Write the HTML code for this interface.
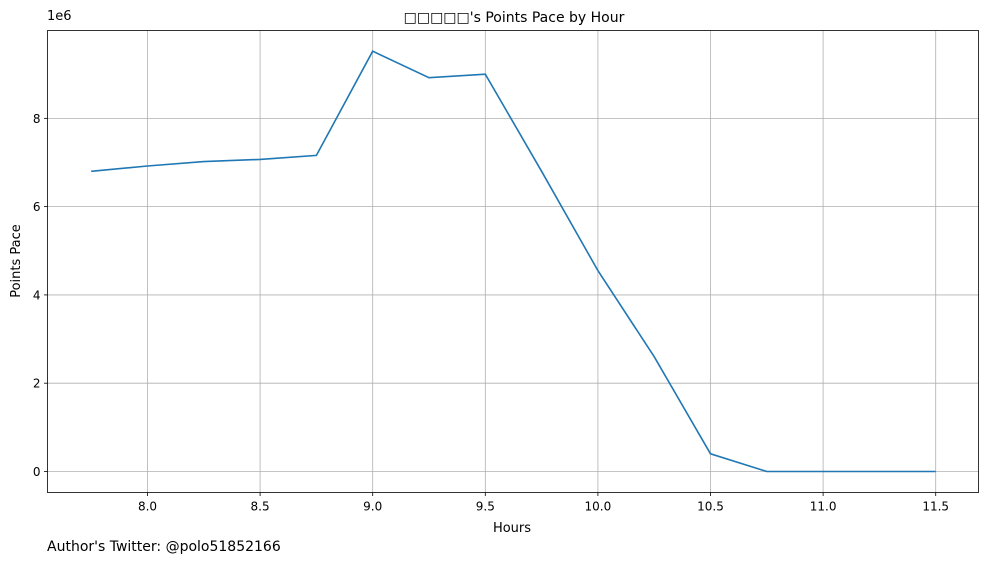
<!DOCTYPE html>
<html><head><meta charset="utf-8">
<style>
body{margin:0;background:#fff;}
svg{display:block;font-family:"DejaVu Sans","Liberation Sans",sans-serif;}
</style></head>
<body>
<svg id="chart" width="988" height="562">
<text x="514" y="22" font-size="14" text-anchor="middle">□□□□□'s Points Pace by Hour</text>
<g id="grid"></g>
<g id="ticks"></g>
<rect x="47.5" y="30.5" width="931" height="462" fill="none" stroke="#000" stroke-width="0.8"/>
<path id="line" fill="none" stroke="#1f77b4" stroke-width="1.6"/>
<text x="47" y="20" font-size="13">1e6</text>
<text x="512" y="532" font-size="13" text-anchor="middle">Hours</text>
<text x="20" y="261" font-size="13" text-anchor="middle" transform="rotate(-90 20 261)">Points Pace</text>
<text x="47" y="551" font-size="14">Author's Twitter: @polo51852166</text>
</svg>
<script>
const hours = [7.75,8.0,8.25,8.5,8.75,9.0,9.25,9.5,9.75,10.0,10.25,10.5,10.75,11.0,11.25,11.5];
const pace = [6.8,6.92,7.02,7.07,7.16,9.52,8.92,9.0,6.8,4.55,2.6,0.4,0,0,0,0];
const xTicks = [8.0,8.5,9.0,9.5,10.0,10.5,11.0,11.5];
const yTicks = [0,2,4,6,8];
const X0=47.5,X1=978.5,Y0=30.5,Y1=492.5;
const xmin=7.556,xmax=11.690,ymin=-0.476,ymax=9.99;
const sx=v=>X0+(v-xmin)/(xmax-xmin)*(X1-X0);
const sy=v=>Y1-(v-ymin)/(ymax-ymin)*(Y1-Y0);
const NS="http://www.w3.org/2000/svg";
const grid=document.getElementById('grid'),ticks=document.getElementById('ticks');
function mk(tag,attrs,parent){const e=document.createElementNS(NS,tag);for(const k in attrs)e.setAttribute(k,attrs[k]);parent.appendChild(e);return e;}
xTicks.forEach(t=>{const x=sx(t);
 const g=mk('line',{x1:x,x2:x,y1:Y0,y2:Y1,stroke:'#b0b0b0','stroke-width':0.8},grid);
 
 
 mk('line',{x1:x,x2:x,y1:Y1,y2:Y1+3.5,stroke:'#000','stroke-width':0.8},ticks);
 const tx=mk('text',{x:x,y:Y1+18,'font-size':12,'text-anchor':'middle'},ticks);
 tx.textContent=t.toFixed(1);
 
 
});
yTicks.forEach(t=>{const y=sy(t);
 const g=mk('line',{x1:X0,x2:X1,y1:y,y2:y,stroke:'#b0b0b0','stroke-width':0.8},grid);
 
 
 mk('line',{x1:X0-3.5,x2:X0,y1:y,y2:y,stroke:'#000','stroke-width':0.8},ticks);
 const tx=mk('text',{x:X0-7,y:y+4.5,'font-size':12,'text-anchor':'end'},ticks);
 tx.textContent=String(t);
 
 
});
document.getElementById('line').setAttribute('d',hours.map((h,i)=>(i?'L':'M')+sx(h).toFixed(1)+' '+sy(pace[i]).toFixed(1)).join(' '));
</script>
</body></html>
